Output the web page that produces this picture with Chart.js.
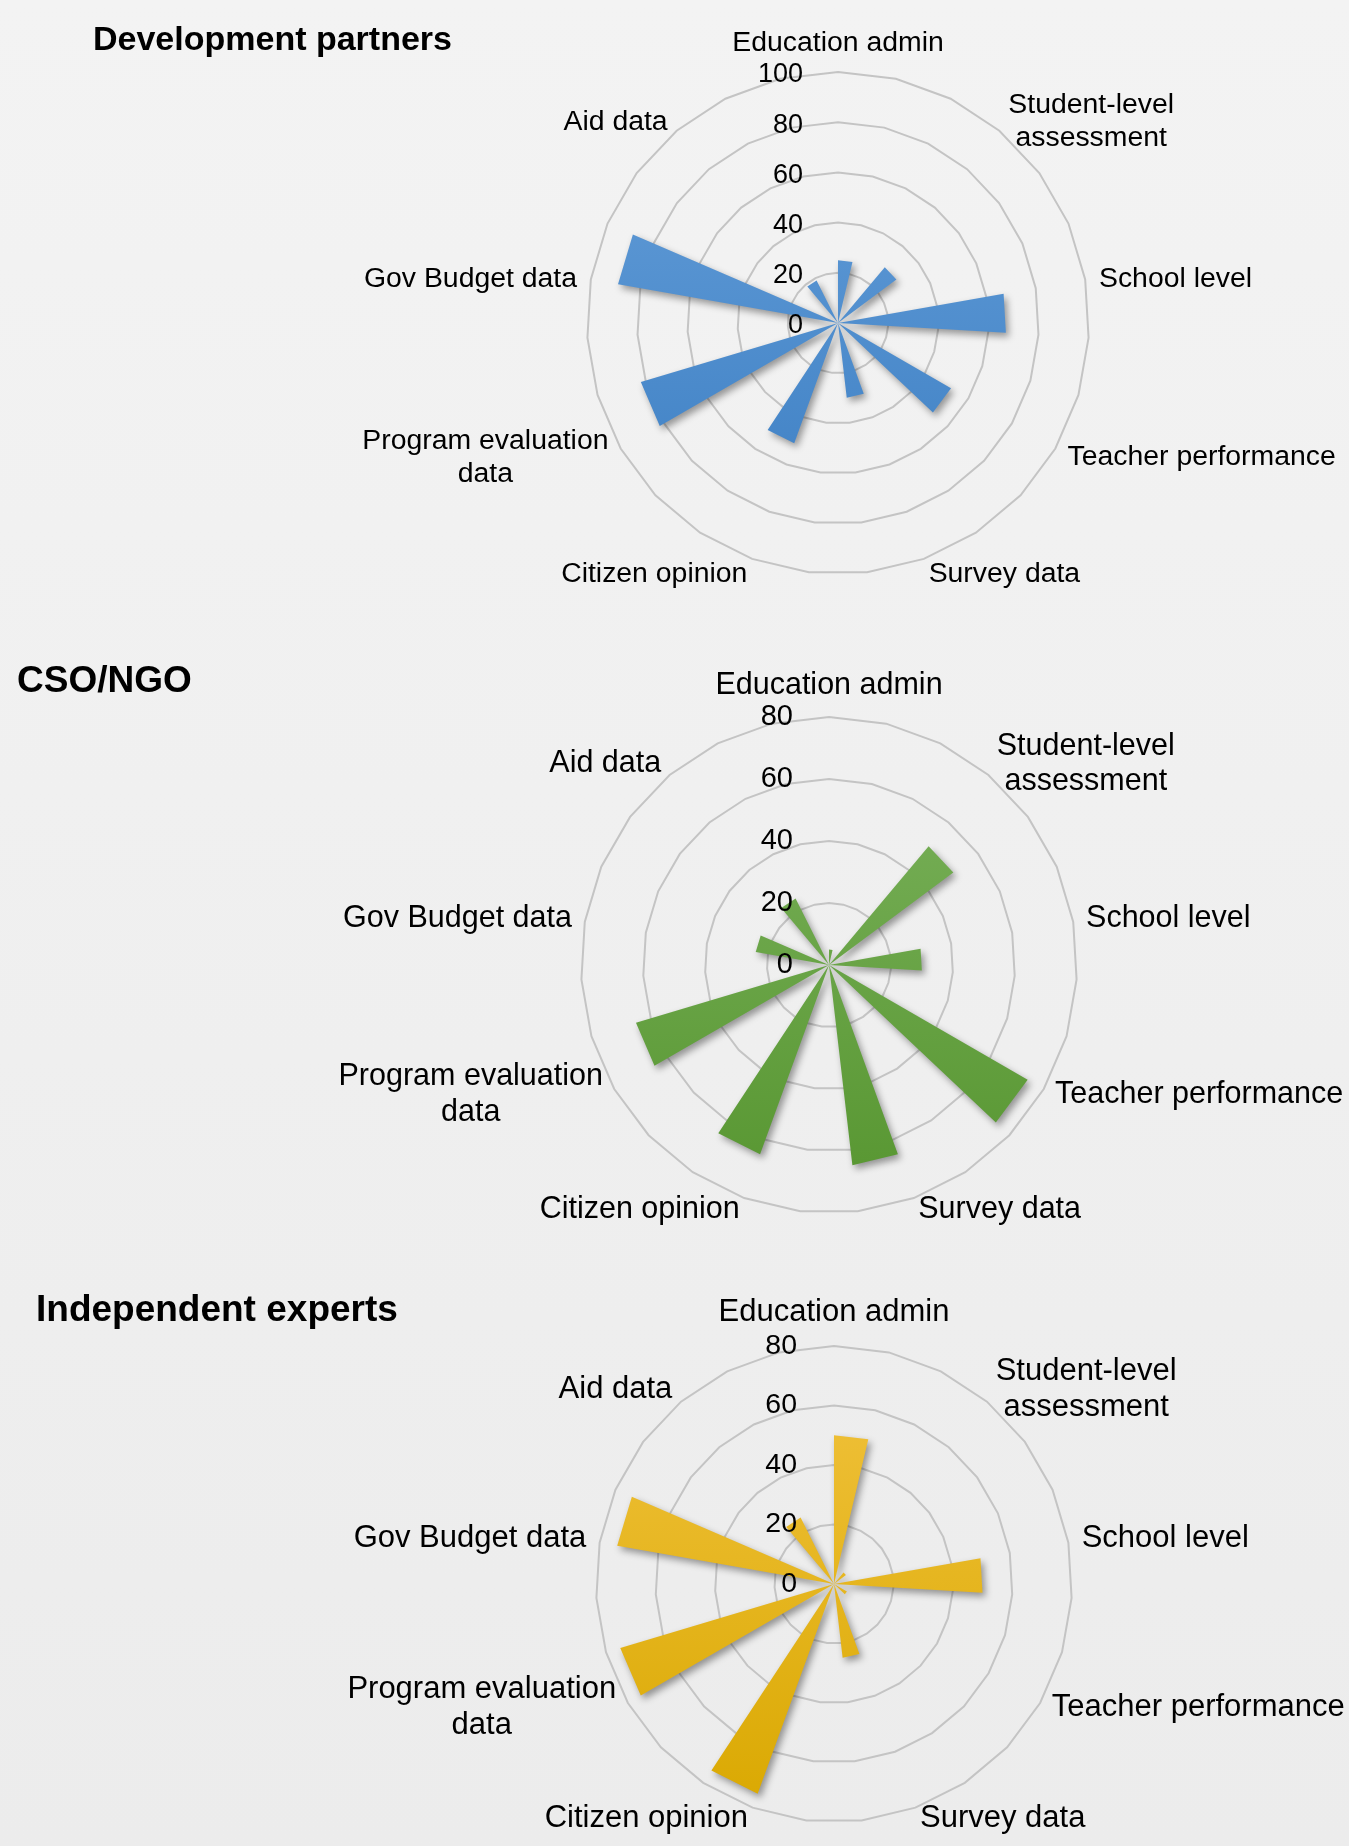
<!DOCTYPE html>
<html>
<head>
<meta charset="utf-8">
<title>Data sources used, by stakeholder group</title>
<script src="https://cdn.jsdelivr.net/npm/chart.js@4.4.1/dist/chart.umd.min.js"></script>
<style>
    html, body {
        margin: 0;
        padding: 0;
    }
    body {
        width: 1349px;
        height: 1846px;
        position: relative;
        overflow: hidden;
        background: linear-gradient(#f3f3f3, #ececec);
    }
    .band {
        position: absolute;
        left: 0;
        width: 1349px;
    }
    .band canvas {
        display: block;
    }
</style>
</head>
<body>
<div class="band" style="top: 0px;"><canvas id="chart-dev" width="1349" height="640"></canvas></div>
<div class="band" style="top: 640px;"><canvas id="chart-cso" width="1349" height="630"></canvas></div>
<div class="band" style="top: 1270px;"><canvas id="chart-exp" width="1349" height="576"></canvas></div>

<script>
// Categories, clockwise from the top
const categories = [
    'Education admin',
    ['Student-level', 'assessment'],
    'School level',
    'Teacher performance',
    'Survey data',
    'Citizen opinion',
    ['Program evaluation', 'data'],
    'Gov Budget data',
    'Aid data'
];

// Share of respondents per group (%)
const devPartners = [25, 29, 67, 52, 30, 51, 82, 89, 19];
const csoNgo = [5, 50, 30, 74, 65, 65, 65, 24, 24];
const experts = [50, 5, 50, 5, 25, 75, 75, 74, 25];

// Tick labels on the radial axis
const ticksTo100 = [0, 20, 40, 60, 80, 100];
const ticksTo80 = [0, 20, 40, 60, 80];

const FONT = '"Liberation Sans", Arial, Helvetica, sans-serif';

// Each category takes three spokes: two at its value and one back at zero,
// so the filled radar turns into a separate wedge per category.
function spokeLabels(cats) {
    return cats.flatMap(c => [c, '', '']);
}

function spokeValues(values) {
    return values.flatMap(v => [v, v, 0]);
}

// Soft shadow under the wedges, then axis text, category text and heading
const wedgeDecor = {
    id: 'wedgeDecor',
    beforeDatasetsDraw(chart) {
        const ctx = chart.ctx;
        ctx.save();
        ctx.shadowColor = 'rgba(0, 0, 0, 0.38)';
        ctx.shadowBlur = 7;
        ctx.shadowOffsetX = 3;
        ctx.shadowOffsetY = 4;
    },
    afterDatasetsDraw(chart) {
        chart.ctx.restore();
    },
    afterDraw(chart, args, opts) {
        const ctx = chart.ctx;
        const scale = chart.scales.r;
        ctx.save();
        ctx.fillStyle = '#000';

        // tick values sit just left of the vertical axis
        ctx.font = opts.tickSize + 'px ' + FONT;
        ctx.textAlign = 'right';
        ctx.textBaseline = 'middle';
        opts.ticks.forEach(v => {
            const y = scale.yCenter - scale.getDistanceFromCenterForValue(v);
            ctx.fillText(String(v), scale.xCenter - opts.tickGap, y + opts.tickDy);
        });

        // category names around the outer ring
        ctx.font = opts.labelSize + 'px ' + FONT;
        const lineH = opts.labelSize * 1.16;
        const count = chart.data.labels.length;
        chart.data.labels.forEach((label, i) => {
            if (!label || !label.length) return;
            const lines = [].concat(label);
            const pos = scale.getPointPosition(i, scale.drawingArea + opts.labelGap);
            const deg = Math.round(i * 360 / count);
            const w = Math.max(...lines.map(l => ctx.measureText(l).width));
            const h = lines.length * lineH;
            let left, top;
            if (deg === 0 || deg === 180) {
                left = pos.x - w / 2;
                top = deg === 0 ? pos.y - h : pos.y;
            } else {
                left = deg < 180 ? pos.x : pos.x - w;
                top = pos.y - h / 2;
            }
            ctx.textAlign = 'center';
            lines.forEach((l, k) => {
                ctx.fillText(l, left + w / 2, top + lineH * (k + 0.5) + opts.labelDy);
            });
        });

        // group heading
        ctx.font = 'bold ' + opts.titleSize + 'px ' + FONT;
        ctx.textAlign = 'left';
        ctx.textBaseline = 'alphabetic';
        ctx.fillText(opts.title, opts.titleX, opts.titleY);
        ctx.restore();
    }
};

function makeWedgeChart(canvasId, values, ticks, look) {
    const canvas = document.getElementById(canvasId);
    const W = canvas.width;
    const H = canvas.height;
    const R = look.radius;
    const max = ticks[ticks.length - 1];

    return new Chart(canvas, {
        type: 'radar',
        data: {
            labels: spokeLabels(categories),
            datasets: [{
                data: spokeValues(values),
                fill: 'origin',
                borderWidth: 0,
                borderColor: 'rgba(0, 0, 0, 0)',
                pointRadius: 0,
                pointHoverRadius: 0,
                backgroundColor: (context) => {
                    const area = context.chart.chartArea;
                    if (!area) return look.colors[1];
                    const g = context.chart.ctx.createLinearGradient(0, area.top, 0, area.bottom);
                    g.addColorStop(0, look.colors[0]);
                    g.addColorStop(1, look.colors[1]);
                    return g;
                }
            }]
        },
        options: {
            responsive: false,
            animation: false,
            layout: {
                padding: {
                    left: look.cx - R,
                    right: W - look.cx - R,
                    top: look.cy - R,
                    bottom: H - look.cy - R
                }
            },
            scales: {
                r: {
                    min: 0,
                    max: max,
                    ticks: { display: false, stepSize: 20 },
                    grid: { circular: false, color: '#c4c4c4', lineWidth: 2 },
                    angleLines: { display: false },
                    pointLabels: { display: false }
                }
            },
            plugins: {
                legend: { display: false },
                tooltip: { enabled: false },
                wedgeDecor: {
                    ticks: ticks,
                    tickSize: look.tickSize,
                    tickGap: look.tickGap,
                    tickDy: look.tickDy,
                    labelSize: look.labelSize,
                    labelGap: look.labelGap,
                    labelDy: look.labelDy,
                    title: look.title,
                    titleSize: look.titleSize,
                    titleX: look.titleX,
                    titleY: look.titleY
                }
            }
        },
        plugins: [wedgeDecor]
    });
}

makeWedgeChart('chart-dev', devPartners, ticksTo100, {
    title: 'Development partners', titleSize: 34, titleX: 93, titleY: 50,
    cx: 838, cy: 323, radius: 251,
    labelSize: 28.4, labelGap: 14, labelDy: 2, tickSize: 27, tickGap: 35, tickDy: 3,
    colors: ['#67a0da', '#3a7dc2']
});

makeWedgeChart('chart-cso', csoNgo, ticksTo80, {
    title: 'CSO/NGO', titleSize: 37, titleX: 17, titleY: 52,
    cx: 829, cy: 325, radius: 248,
    labelSize: 30.5, labelGap: 13, labelDy: -1, tickSize: 29, tickGap: 36, tickDy: 0,
    colors: ['#7cb35e', '#56952f']
});

makeWedgeChart('chart-exp', experts, ticksTo80, {
    title: 'Independent experts', titleSize: 37, titleX: 36, titleY: 51,
    cx: 834, cy: 314, radius: 238,
    labelSize: 31, labelGap: 13.5, labelDy: -2, tickSize: 28.5, tickGap: 37, tickDy: 0,
    colors: ['#f2c33f', '#d9a800']
});
</script>
</body>
</html>
